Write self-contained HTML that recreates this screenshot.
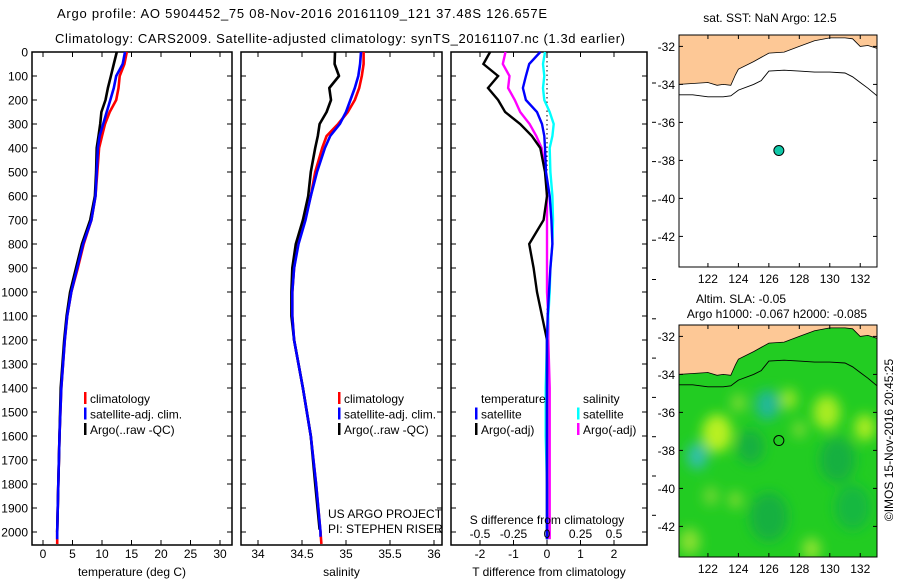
<!DOCTYPE html>
<html><head><meta charset="utf-8"><style>
html,body{margin:0;padding:0;background:#fff;}
svg{display:block;font-family:"Liberation Sans",sans-serif;}
</style></head><body>
<svg id="root" width="900" height="580" viewBox="0 0 900 580">
<text x="302" y="18" font-size="13" text-anchor="middle" textLength="490">Argo profile: AO 5904452_75 08-Nov-2016 20161109_121 37.48S 126.657E</text>
<text x="340" y="43" font-size="13" text-anchor="middle" textLength="570">Climatology: CARS2009. Satellite-adjusted climatology: synTS_20161107.nc (1.3d earlier)</text>
<g id="g"></g>
</svg>
<script>
// ---- data ----
const depths=[0,50,100,150,200,250,300,350,400,500,600,700,800,900,1000,1100,1200,1400,1600,1800,2000,2050];
const tempClim=[14.2,13.8,13,12.8,12.4,11.3,10.5,10,9.5,9.2,8.9,8.2,6.9,5.9,4.8,4.1,3.7,3.1,2.8,2.6,2.4,2.4];
const tempSat=[13.9,13.5,12.4,12,11.4,10.8,10.2,9.6,9.3,9.1,8.9,8.2,6.8,5.8,4.8,4.1,3.7,3.1,2.8,2.6,2.4,2.4];
const tempArgo=[12.5,12,11.5,11,10.6,9.9,9.7,9.4,9.1,9,8.8,8,6.6,5.6,4.6,4,3.6,3,2.8,2.6,2.4,2.4];
const salClim=[35.2,35.2,35.18,35.15,35.1,35.02,34.91,34.78,34.73,34.65,34.6,34.53,34.45,34.41,34.39,34.39,34.41,34.51,34.6,34.66,34.71,34.72];
const salSat=[35.17,35.16,35.14,35.1,35.05,35,34.93,34.82,34.76,34.67,34.6,34.54,34.46,34.41,34.39,34.39,34.41,34.51,34.6,34.66,34.71,34.71];
const salArgo=[34.875,34.87,34.92,34.81,34.83,34.78,34.7,34.68,34.65,34.6,34.57,34.51,34.43,34.39,34.38,34.38,34.41,34.51,34.6,34.65,34.7,34.7];
const dTArgo=[-1.7,-1.9,-1.46,-1.76,-1.46,-1.25,-0.8,-0.45,-0.2,-0.06,0,-0.1,-0.53,-0.4,-0.3,-0.15,0,0,0,0,0,0];
const dTSat=[-0.2,-0.53,-0.63,-0.72,-0.63,-0.3,-0.15,-0.08,-0.06,-0.03,0.08,0.13,0.16,0.1,0.06,0.02,0,0,0,0,0,0];
const dSArgo=[-0.31,-0.33,-0.28,-0.29,-0.24,-0.2,-0.13,-0.08,-0.04,-0.01,0,0,0,0,0,0.01,0.01,0.02,0.02,0.02,0.02,0.02];
const dSSat=[-0.015,-0.03,-0.02,-0.03,-0.02,0.02,0.05,0.04,0.02,0.025,0.04,0.045,0.04,0.025,0.02,0.01,0,-0.01,-0.01,0,0,0];
const depthTicks=[0,100,200,300,400,500,600,700,800,900,1000,1100,1200,1300,1400,1500,1600,1700,1800,1900,2000];
const tempTicks=[0,5,10,15,20,25,30];
const salTicks=[34,34.5,35,35.5,36];
const salTickLabels=["34","34.5","35","35.5","36"];
const dTTicks=[-2,-1,0,1,2];
const dSTicks=[-0.5,-0.25,0,0.25,0.5];
const dSTickLabels=["-0.5","-0.25","0","0.25","0.5"];
const latTicks=[-32,-34,-36,-38,-40,-42];
const lonTicks=[122,124,126,128,130,132];
const coastLon=[120.1,121,122,122.6,123,123.5,123.8,124,125,126,127,128,129,130,131,131.5,132,132.5,133.1];
const coastLat=[-34.0,-33.95,-33.9,-34.05,-34.0,-34.05,-33.5,-33.2,-32.8,-32.35,-32.3,-32.0,-31.7,-31.55,-31.55,-31.6,-32.0,-31.95,-32.1];
const isoLon=[120.1,121,122,123,123.5,124,125,125.5,126,127,128,129,130,131,131.5,132,132.5,133.1];
const isoLat=[-34.55,-34.55,-34.65,-34.65,-34.6,-34.3,-34.0,-33.8,-33.3,-33.25,-33.3,-33.35,-33.35,-33.4,-33.6,-33.9,-34.2,-34.6];
const argoLon=126.657, argoLat=-37.48;
const blobLon=[122.6,129.8,132.3,127.3,125.9,121.3,124,128,120.8,128.8,122.2,123.8,130.5,126,131.5,124.8];
const blobLat=[-37.1,-36,-36.8,-35.3,-35.6,-38.3,-35.5,-36.9,-42.8,-43.2,-40.4,-40.6,-38.5,-41.5,-41,-37.8];
const blobCol=["#b8f020","#a8ec20","#a8ec20","#98e628","#20b898","#30c0a8","#78dc30","#78dc30","#88e030","#90e430","#70d830","#80dc30","#18b040","#18b040","#18b840","#18b040"];
const blobR=[1.0,0.9,0.7,0.55,0.8,0.7,0.5,0.45,0.7,0.6,0.5,0.45,1.2,1.3,1.2,0.9];

const NS="http://www.w3.org/2000/svg";
const G=document.getElementById('g');
function mk(tag,attrs,parent){const e=document.createElementNS(NS,tag);for(const k in attrs)e.setAttribute(k,attrs[k]);(parent||G).appendChild(e);return e;}
function txt(x,y,s,size,anchor,parent){const t=mk('text',{x:x,y:y,'font-size':size,'text-anchor':anchor||'middle'},parent);t.textContent=s;return t;}

// profile panels
const PT=52, dScale=0.24;
const yD=d=>PT+d*dScale;
const PB=545;
function panel(name,x0,x1,xf,ticks,labels,xlabel,lines,showDepthLabels){
  const g=mk('g',{});
  
  
  mk('rect',{x:x0,y:PT,width:x1-x0,height:PB-PT,fill:'none',stroke:'#000','stroke-width':1.5},g);
  depthTicks.forEach(d=>{
    const y=yD(d);
    mk('line',{x1:x0,x2:x0+5,y1:y,y2:y,stroke:'#000'},g);
    mk('line',{x1:x1-5,x2:x1,y1:y,y2:y,stroke:'#000'},g);
    if(showDepthLabels){const t=txt(28,y+4.5,String(d),12,'end',g);}
  });
  ticks.forEach((v,i)=>{
    const x=xf(v);
    mk('line',{x1:x,x2:x,y1:PT,y2:PT+5,stroke:'#000'},g);
    mk('line',{x1:x,x2:x,y1:PB-5,y2:PB,stroke:'#000'},g);
    if(labels){const t=txt(x,558,labels[i],12,'middle',g);}
  });
  if(xlabel){const t=txt((x0+x1)/2,576,xlabel,12,'middle',g);}
  lines.forEach(L=>{
    const pts=L.v.map((v,i)=>xf(v).toFixed(1)+','+yD(Math.min(depths[i],L.maxD||2050)).toFixed(1)).join(' ');
    const p=mk('polyline',{points:pts,fill:'none',stroke:L.c,'stroke-width':2.6,'stroke-linejoin':'round'},g);
    
    
  });
  return g;
}
const xT=v=>43+v*5.9;
const xS=v=>258+(v-34)*88;
const xDT=v=>547+v*33.5;
const xDS=v=>547+v*134;

panel('temperature-panel',32,232,xT,tempTicks,tempTicks.map(String),'temperature (deg C)',
  [{v:tempClim,c:'#f00',n:'line-temp-climatology'},{v:tempArgo,c:'#000',n:'line-temp-argo',maxD:2000},{v:tempSat,c:'#00f',n:'line-temp-satellite',maxD:2030}],true);
panel('salinity-panel',241,442,xS,salTicks,salTickLabels,'salinity',
  [{v:salClim,c:'#f00',n:'line-sal-climatology'},{v:salArgo,c:'#000',n:'line-sal-argo',maxD:1990},{v:salSat,c:'#00f',n:'line-sal-satellite',maxD:2020}],false);
const dp=panel('difference-panel',451,647,xDT,dTTicks,dTTicks.map(String),'T difference from climatology',[],false);
mk('line',{x1:547,x2:547,y1:PT,y2:PB,stroke:'#000','stroke-dasharray':'1.5,3'},dp);
[[dSArgo,'#f0f',xDS,'line-sdiff-argo'],[dSSat,'#0ff',xDS,'line-sdiff-satellite'],[dTArgo,'#000',xDT,'line-tdiff-argo'],[dTSat,'#00f',xDT,'line-tdiff-satellite']].forEach(L=>{
  const pts=L[0].map((v,i)=>L[2](v).toFixed(1)+','+yD(Math.min(depths[i],2030)).toFixed(1)).join(' ');
  const p=mk('polyline',{points:pts,fill:'none',stroke:L[1],'stroke-width':2.4},dp);
  
  
});
dSTicks.forEach((v,i)=>{const t=txt(xDS(v),538,dSTickLabels[i],12,'middle',dp);});
{const t=txt(547,524,'S difference from climatology',12,'middle',dp);}
for(let y=83;y<540;y+=39.3) mk('line',{x1:652,x2:656,y1:y,y2:y,stroke:'#000'});

// legends
function legend(x,y,items,name){
  const g=mk('g',{});
  
  
  items.forEach((it,i)=>{
    const yy=y+i*15.5;
    if(it[0]) mk('rect',{x:x,y:yy-11,width:2.5,height:12,fill:it[0]},g);
    txt(x+6,yy,it[1],12,'start',g);
  });
}
legend(84,403,[['#f00','climatology'],['#00f','satellite-adj. clim.'],['#000','Argo(..raw -QC)']],'temp-legend');
legend(338,403,[['#f00','climatology'],['#00f','satellite-adj. clim.'],['#000','Argo(..raw -QC)']],'sal-legend');
legend(475,403,[[null,'temperature'],['#00f','satellite'],['#000','Argo(-adj)']],'tdiff-legend');
legend(577,403,[[null,'salinity'],['#0ff','satellite'],['#f0f','Argo(-adj)']],'sdiff-legend');
txt(328,518,'US ARGO PROJECT',12,'start');
txt(328,533,'PI: STEPHEN RISER',12,'start');

// maps
const MX0=679,MX1=877;
const lonX=l=>MX0+(l-120.1)*15.23;
function map(top,name,shaded){
  const bot=top+232;
  const latY=a=>top+(-31.4-a)*19.0;
  const g=mk('g',{});
  
  
  const cid='clip'+top;
  const cp=mk('clipPath',{id:cid},g);mk('rect',{x:MX0,y:top,width:MX1-MX0,height:bot-top},cp);
  const inner=mk('g',{'clip-path':'url(#'+cid+')'},g);
  if(shaded){
    mk('rect',{x:MX0,y:top,width:MX1-MX0,height:bot-top,fill:'#22cc22'},inner);
    const f=mk('filter',{id:'blur'+top,x:'-50%',y:'-50%',width:'200%',height:'200%'},g);
    mk('feGaussianBlur',{stdDeviation:6},f);
    const bg=mk('g',{filter:'url(#blur'+top+')'},inner);
    blobLon.forEach((l,i)=>{
      const c=mk('ellipse',{cx:lonX(l),cy:latY(blobLat[i]),rx:blobR[i]*15,ry:blobR[i]*19,fill:blobCol[i]},bg);
      
      
    });
  }
  let land='M'+MX0+','+(top-5);
  coastLon.forEach((l,i)=>{land+=' L'+lonX(l).toFixed(1)+','+latY(coastLat[i]).toFixed(1);});
  land+=' L'+MX1+','+(top-5)+' Z';
  const lp=mk('path',{d:land,fill:'#fdc896',stroke:'#000','stroke-width':0.8},inner);
  
  
  const iso=isoLon.map((l,i)=>lonX(l).toFixed(1)+','+latY(isoLat[i]).toFixed(1)).join(' ');
  mk('polyline',{points:iso,fill:'none',stroke:'#000','stroke-width':0.9},inner);
  mk('rect',{x:MX0,y:top,width:MX1-MX0,height:bot-top,fill:'none',stroke:'#000'},g);
  latTicks.forEach(a=>{const y=latY(a);
    mk('line',{x1:MX0,x2:MX0+4,y1:y,y2:y,stroke:'#000'},g);mk('line',{x1:MX1-4,x2:MX1,y1:y,y2:y,stroke:'#000'},g);
    const t=txt(675,y+4.5,String(a),12,'end',g);});
  lonTicks.forEach(l=>{const x=lonX(l);
    mk('line',{x1:x,x2:x,y1:top,y2:top+4,stroke:'#000'},g);mk('line',{x1:x,x2:x,y1:bot-4,y2:bot,stroke:'#000'},g);
    const t=txt(x,bot+16,String(l),12,'middle',g);});
  const m=mk('circle',{cx:lonX(argoLon),cy:latY(argoLat),r:5,fill:shaded?'none':'#10c8a8',stroke:'#000','stroke-width':1},g);
  
  
}
map(35,'sst-map',false);
map(325,'sla-map',true);
txt(770,22,'sat. SST: NaN Argo: 12.5',12,'middle');
txt(741,303,'Altim. SLA: -0.05',12,'middle');
txt(777,318,'Argo h1000: -0.067 h2000: -0.085',12,'middle');
const ts=txt(0,0,'©IMOS 15-Nov-2016 20:45:25',12,'middle');
ts.setAttribute('transform','translate(893,440) rotate(-90)');


</script>
</body></html>
